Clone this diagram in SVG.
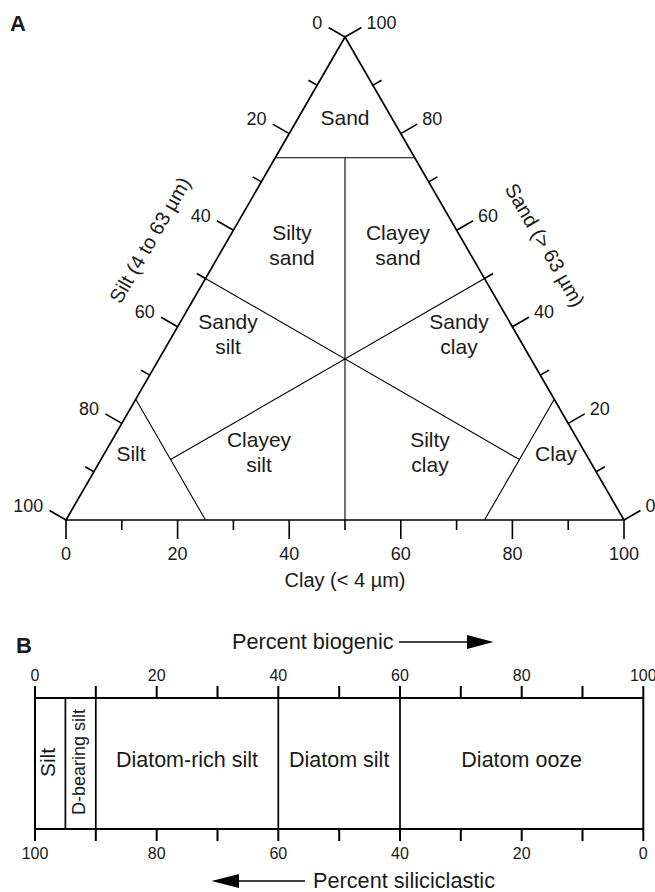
<svg xmlns="http://www.w3.org/2000/svg" width="655" height="892" viewBox="0 0 655 892">
<style>
text{font-family:"Liberation Sans",Arial,sans-serif;fill:#1a1a1a}
.lbl{font-size:21px;text-anchor:middle}
.blbl{font-size:21.5px;text-anchor:middle}
.num{font-size:18px}
.mid{text-anchor:middle}
.end{text-anchor:end}
.bn{font-size:16px;text-anchor:middle}
.ttl{font-size:20px;text-anchor:middle}
.pct{font-size:21.7px}
.panel{font-size:22px;font-weight:bold}
.edge{fill:none;stroke:#000;stroke-width:1.7}
.tick{fill:none;stroke:#000;stroke-width:1.6}
.inner{fill:none;stroke:#000;stroke-width:1.1}
.bar{fill:none;stroke:#000;stroke-width:2}
.div{fill:none;stroke:#000;stroke-width:1.7}
</style>
<text class="panel" x="10" y="31">A</text>
<text class="panel" x="16" y="653">B</text>

<g id="triangle">
<polygon class="edge" points="345,37 66,520 624,520"/>
<path class="tick" d="M66,520 L49.55,510.5 M93.9,471.7 L85.24,466.7 M121.8,423.4 L105.35,413.9 M149.7,375.1 L141.04,370.1 M177.6,326.8 L161.15,317.3 M205.5,278.5 L196.84,273.5 M233.4,230.2 L216.95,220.7 M261.3,181.9 L252.64,176.9 M289.2,133.6 L272.75,124.1 M317.1,85.3 L308.44,80.3 M345,37 L328.55,27.5"/>
<path class="tick" d="M624,520 L640.45,510.5 M596.1,471.7 L604.76,466.7 M568.2,423.4 L584.65,413.9 M540.3,375.1 L548.96,370.1 M512.4,326.8 L528.85,317.3 M484.5,278.5 L493.16,273.5 M456.6,230.2 L473.05,220.7 M428.7,181.9 L437.36,176.9 M400.8,133.6 L417.25,124.1 M372.9,85.3 L381.56,80.3 M345,37 L361.45,27.5"/>
<path class="tick" d="M66,520 V539 M121.8,520 V530 M177.6,520 V539 M233.4,520 V530 M289.2,520 V539 M345,520 V530 M400.8,520 V539 M456.6,520 V530 M512.4,520 V539 M568.2,520 V530 M624,520 V539"/>
</g>

<g id="triangle-axis-labels">
<text class="num end" x="43.3" y="511.5">100</text>
<text class="num end" x="99.1" y="414.9">80</text>
<text class="num end" x="154.9" y="318.3">60</text>
<text class="num end" x="210.7" y="221.7">40</text>
<text class="num end" x="266.5" y="125.1">20</text>
<text class="num end" x="322.3" y="28.5">0</text>
<text class="num" x="645.5" y="511.5">0</text>
<text class="num" x="589.7" y="414.9">20</text>
<text class="num" x="533.9" y="318.3">40</text>
<text class="num" x="478.1" y="221.7">60</text>
<text class="num" x="422.3" y="125.1">80</text>
<text class="num" x="366.5" y="28.5">100</text>
<text class="num mid" x="66" y="560">0</text>
<text class="num mid" x="177.6" y="560">20</text>
<text class="num mid" x="289.2" y="560">40</text>
<text class="num mid" x="400.8" y="560">60</text>
<text class="num mid" x="512.4" y="560">80</text>
<text class="num mid" x="624" y="560">100</text>
<text class="ttl" x="345" y="587">Clay (&lt; 4 µm)</text>
<text class="ttl" transform="translate(156,243.5) rotate(-60)">Silt (4 to 63 µm)</text>
<text class="ttl" transform="translate(539,248.5) rotate(60)">Sand (&gt; 63 µm)</text>
</g>

<g id="connectors">
<path class="inner" d="M275.25,157.75 H414.75 M345,157.75 V520 M135.75,399.25 L205.5,520 M554.25,399.25 L484.5,520 M205.5,278.5 L519.4,459.6 M484.5,278.5 L170.6,459.6"/>
</g>

<g id="sand"><text class="lbl" x="345" y="125">Sand</text></g>
<g id="silty-sand"><text class="lbl" x="292" y="240">Silty</text><text class="lbl" x="292" y="265">sand</text></g>
<g id="clayey-sand"><text class="lbl" x="398" y="240">Clayey</text><text class="lbl" x="398" y="265">sand</text></g>
<g id="sandy-silt"><text class="lbl" x="228" y="329">Sandy</text><text class="lbl" x="228" y="354">silt</text></g>
<g id="sandy-clay"><text class="lbl" x="459" y="329">Sandy</text><text class="lbl" x="459" y="354">clay</text></g>
<g id="clayey-silt"><text class="lbl" x="259" y="447">Clayey</text><text class="lbl" x="259" y="472">silt</text></g>
<g id="silty-clay"><text class="lbl" x="430" y="447">Silty</text><text class="lbl" x="430" y="472">clay</text></g>
<g id="silt"><text class="lbl" x="131" y="461">Silt</text></g>
<g id="clay"><text class="lbl" x="556" y="461">Clay</text></g>

<g id="bar">
<path class="bar" d="M35,698 H643.3 M35,829 H643.3 M35,698 V829 M643.3,698 V829"/>
<path class="bar" d="M35,686 V698 M95.8,686 V698 M156.7,686 V698 M217.5,686 V698 M278.3,686 V698 M339.2,686 V698 M400,686 V698 M460.8,686 V698 M521.7,686 V698 M582.5,686 V698 M643.3,686 V698"/>
<path class="bar" d="M35,829 V841 M95.8,829 V841 M156.7,829 V841 M217.5,829 V841 M278.3,829 V841 M339.2,829 V841 M400,829 V841 M460.8,829 V841 M521.7,829 V841 M582.5,829 V841 M643.3,829 V841"/>
<path class="div" d="M65.4,698 V829 M95.8,698 V829 M278.3,698 V829 M400,698 V829"/>
<text class="bn" x="35" y="681">0</text>
<text class="bn" x="156.7" y="681">20</text>
<text class="bn" x="278.3" y="681">40</text>
<text class="bn" x="400" y="681">60</text>
<text class="bn" x="521.7" y="681">80</text>
<text class="bn" x="643.3" y="681">100</text>
<text class="bn" x="35" y="859">100</text>
<text class="bn" x="156.7" y="859">80</text>
<text class="bn" x="278.3" y="859">60</text>
<text class="bn" x="400" y="859">40</text>
<text class="bn" x="521.7" y="859">20</text>
<text class="bn" x="643.3" y="859">0</text>
</g>
<g id="bar-silt"><text class="lbl" transform="translate(55,762.5) rotate(-90)">Silt</text></g>
<g id="bar-d-bearing-silt"><text style="font-size:18px;text-anchor:middle" transform="translate(85,762) rotate(-90)">D-bearing silt</text></g>
<g id="bar-diatom-rich-silt"><text class="blbl" x="187" y="767">Diatom-rich silt</text></g>
<g id="bar-diatom-silt"><text class="blbl" x="339.2" y="767">Diatom silt</text></g>
<g id="bar-diatom-ooze"><text class="blbl" x="521.7" y="767">Diatom ooze</text></g>

<g id="arrows">
<text class="pct" x="232" y="649">Percent biogenic</text>
<path d="M399,642 H468" stroke="#000" stroke-width="1.6" fill="none"/>
<polygon points="467,635 493.5,642 467,649" fill="#000"/>
<text class="pct" x="313" y="888">Percent siliciclastic</text>
<path d="M237,881 H305" stroke="#000" stroke-width="1.6" fill="none"/>
<polygon points="239,874 211.5,881 239,888" fill="#000"/>
</g>
</svg>
